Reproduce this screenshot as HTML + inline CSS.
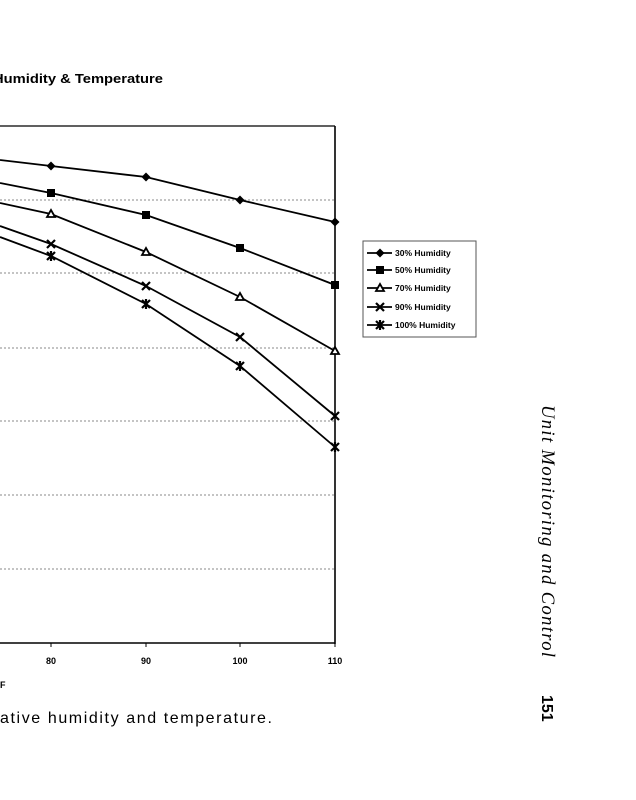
<!DOCTYPE html>
<html><head><meta charset="utf-8"><style>
html,body{margin:0;padding:0;background:#fff;}
body{width:636px;height:800px;position:relative;overflow:hidden;font-family:"Liberation Sans",sans-serif;}
</style></head><body>
<svg width="636" height="800" viewBox="0 0 636 800" xmlns="http://www.w3.org/2000/svg" style="position:absolute;left:0;top:0">
<defs>
<g id="dia"><path d="M0,-4.5 L4.5,0 L0,4.5 L-4.5,0Z" fill="#000"/></g>
<g id="sq"><rect x="-4" y="-4" width="8" height="8" fill="#000"/></g>
<g id="tri"><path d="M0,-4 L4,3 L-4,3Z" fill="#fff" stroke="#000" stroke-width="1.8"/></g>
<g id="x"><path d="M-4,-4 L4,4 M4,-4 L-4,4" stroke="#000" stroke-width="2.2"/></g>
<g id="xs"><path d="M-4,-4 L4,4 M4,-4 L-4,4 M0,-5 L0,5" stroke="#000" stroke-width="2.2"/></g>
</defs>
<text x="-7" y="83" font-family="Liberation Sans" font-weight="bold" font-size="12.5" fill="#000" textLength="170" lengthAdjust="spacingAndGlyphs">Humidity &amp; Temperature</text>
<g stroke="#888" stroke-width="1" stroke-dasharray="2,2">
<line x1="0" y1="200" x2="335" y2="200"/>
<line x1="0" y1="273" x2="335" y2="273"/>
<line x1="0" y1="348" x2="335" y2="348"/>
<line x1="0" y1="421" x2="335" y2="421"/>
<line x1="0" y1="495" x2="335" y2="495"/>
<line x1="0" y1="569" x2="335" y2="569"/>
</g>
<line x1="0" y1="126" x2="335" y2="126" stroke="#000" stroke-width="1.2"/>
<line x1="335" y1="126" x2="335" y2="644" stroke="#000" stroke-width="1.6"/>
<line x1="0" y1="643" x2="335" y2="643" stroke="#000" stroke-width="1.6"/>
<g stroke="#000" stroke-width="1"><line x1="51" y1="643" x2="51" y2="647"/><line x1="146" y1="643" x2="146" y2="647"/><line x1="240" y1="643" x2="240" y2="647"/><line x1="335" y1="643" x2="335" y2="647"/></g>
<g font-family="Liberation Sans" font-weight="bold" font-size="9" text-anchor="middle" fill="#000">
<text x="51" y="664">80</text><text x="146" y="664">90</text><text x="240" y="664">100</text><text x="335" y="664">110</text>
</g>
<text x="0" y="688" font-family="Liberation Sans" font-weight="bold" font-size="9">F</text>
<g fill="none" stroke="#000" stroke-width="1.8">
<polyline points="0,160 51,166 146,177 240,200 335,222"/>
<polyline points="0,183 51,193 146,215 240,248 335,285"/>
<polyline points="0,203 51,214 146,252 240,297 335,351"/>
<polyline points="0,226 51,244 146,286 240,337 335,416"/>
<polyline points="0,237 51,256 146,304 240,366 335,447"/>
</g>
<use href="#dia" x="51" y="166"/><use href="#dia" x="146" y="177"/><use href="#dia" x="240" y="200"/><use href="#dia" x="335" y="222"/>
<use href="#sq" x="51" y="193"/><use href="#sq" x="146" y="215"/><use href="#sq" x="240" y="248"/><use href="#sq" x="335" y="285"/>
<use href="#tri" x="51" y="214"/><use href="#tri" x="146" y="252"/><use href="#tri" x="240" y="297"/><use href="#tri" x="335" y="351"/>
<use href="#x" x="51" y="244"/><use href="#x" x="146" y="286"/><use href="#x" x="240" y="337"/><use href="#x" x="335" y="416"/>
<use href="#xs" x="51" y="256"/><use href="#xs" x="146" y="304"/><use href="#xs" x="240" y="366"/><use href="#xs" x="335" y="447"/>
<rect x="363" y="241" width="113" height="96" fill="#fff" stroke="#555" stroke-width="1"/>
<g stroke="#000" stroke-width="1.8">
<line x1="367" y1="253" x2="392" y2="253"/><line x1="367" y1="270" x2="392" y2="270"/><line x1="367" y1="288" x2="392" y2="288"/><line x1="367" y1="307" x2="392" y2="307"/><line x1="367" y1="325" x2="392" y2="325"/>
</g>
<use href="#dia" x="380" y="253"/><use href="#sq" x="380" y="270"/><use href="#tri" x="380" y="288"/><use href="#x" x="380" y="307"/><use href="#xs" x="380" y="325"/>
<g font-family="Liberation Sans" font-weight="bold" font-size="8.5" fill="#000">
<text x="395" y="256">30% Humidity</text><text x="395" y="273">50% Humidity</text><text x="395" y="291">70% Humidity</text><text x="395" y="310">90% Humidity</text><text x="395" y="328">100% Humidity</text>
</g>
<text x="0" y="723" font-family="Liberation Sans" font-size="16" fill="#000" textLength="272" lengthAdjust="spacing">ative humidity and temperature.</text>
<text transform="translate(542,405) rotate(90)" font-family="Liberation Serif" font-style="italic" font-size="18.5" fill="#000" textLength="252" lengthAdjust="spacing">Unit Monitoring and Control</text>
<text transform="translate(542,695) rotate(90)" font-family="Liberation Sans" font-weight="bold" font-size="16" fill="#000">151</text>
</svg>
</body></html>
